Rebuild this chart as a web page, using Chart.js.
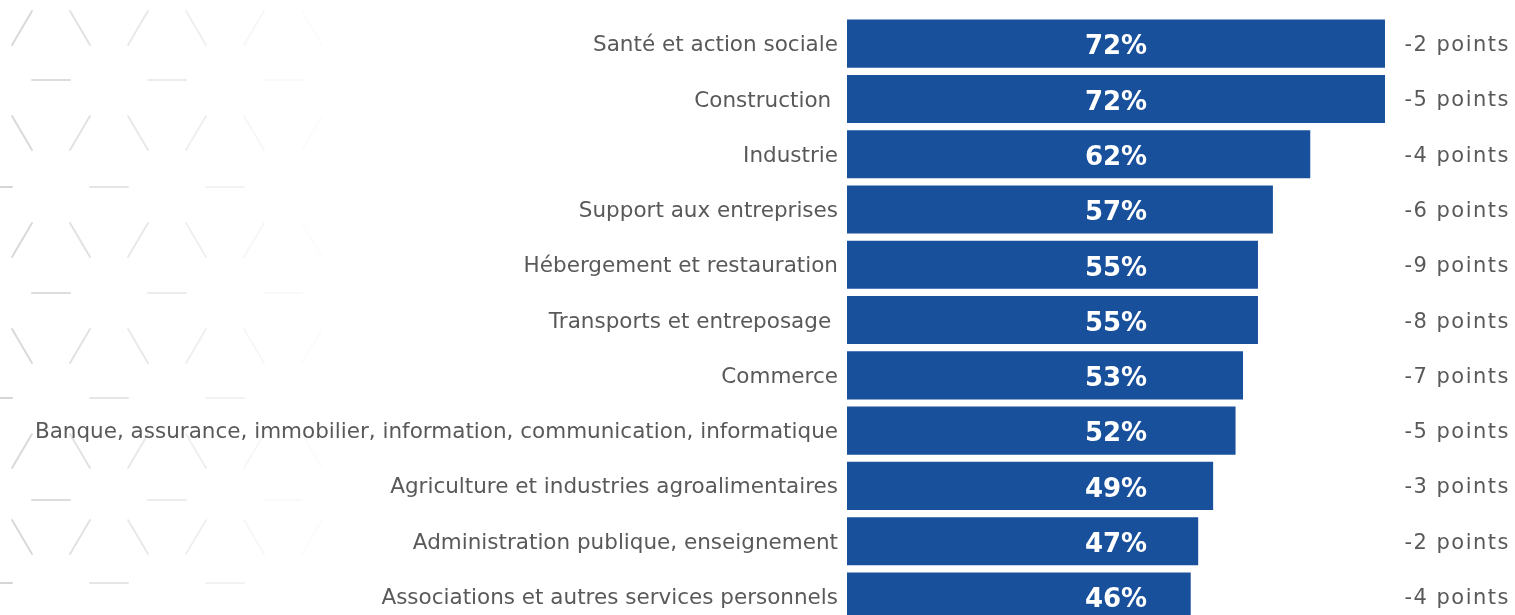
<!DOCTYPE html>
<html lang="fr">
<head>
<meta charset="utf-8">
<title>Secteurs</title>
<script src="https://cdn.jsdelivr.net/npm/chart.js@4/dist/chart.umd.min.js"></script>
<style>
    html, body { margin: 0; padding: 0; background: #fff; overflow: hidden; }
    #wrap { position: relative; width: 1515px; height: 638px; }
</style>
</head>
<body>
<div id="wrap"><canvas id="chart"></canvas></div>
<script>
// ─── Data ──────────────────────────────────

const sectors = [
    'Santé et action sociale',
    'Construction ',
    'Industrie',
    'Support aux entreprises',
    'Hébergement et restauration',
    'Transports et entreposage ',
    'Commerce',
    'Banque, assurance, immobilier, information, communication, informatique',
    'Agriculture et industries agroalimentaires',
    'Administration publique, enseignement',
    'Associations et autres services personnels'
];
const shares  = [72, 72, 62, 57, 55, 55, 53, 52, 49, 47, 46];
const changes = [-2, -5, -4, -6, -9, -8, -7, -5, -3, -2, -4];

const BLUE = '#18509c';
const GREY = '#595959';
const FONT = '"DejaVu Sans", Verdana, sans-serif';

// ─── Plugins ───────────────────────────────

// faint hexagon watermark on the left
const watermark = {
    id: 'watermark',
    beforeDraw(chart) {
        const ctx = chart.ctx;
        const slashRows = [28, 133, 240, 346, 451, 537];
        const dashRows  = [80, 187, 293, 398, 500, 583];
        const fade = x => 0.16 * Math.pow(Math.max(0, 1 - x / 360), 1.2);
        ctx.save();
        ctx.lineWidth = 2;
        ctx.lineCap = 'round';
        slashRows.forEach((y, r) => {
            for (let c = 0; c < 6; c++) {
                const x = 22 + c * 58;
                ctx.strokeStyle = `rgba(0,0,0,${fade(x)})`;
                const fwd = (c + r) % 2 === 0;
                ctx.beginPath();
                ctx.moveTo(x - 10, fwd ? y + 17 : y - 17);
                ctx.lineTo(x + 10, fwd ? y - 17 : y + 17);
                ctx.stroke();
            }
        });
        dashRows.forEach((y, r) => {
            for (let c = 0; c < 4; c++) {
                const x0 = 32 + c * 116 - (r % 2) * 58;
                ctx.strokeStyle = `rgba(0,0,0,${fade(x0 + 19)})`;
                ctx.beginPath();
                ctx.moveTo(x0, y);
                ctx.lineTo(x0 + 38, y);
                ctx.stroke();
            }
        });
        ctx.restore();
    }
};

// white share labels and right-hand change labels
const labels = {
    id: 'labels',
    afterDatasetsDraw(chart) {
        const ctx  = chart.ctx;
        const meta = chart.getDatasetMeta(0);
        const xs   = chart.scales.x;
        ctx.save();
        ctx.textBaseline = 'middle';
        meta.data.forEach((bar, i) => {
            ctx.fillStyle = '#fff';
            ctx.textAlign = 'center';
            ctx.font = `bold 26px ${FONT}`;
            ctx.fillText(shares[i] + '%', xs.getPixelForValue(36), bar.y + 4);

            ctx.fillStyle = GREY;
            ctx.textAlign = 'right';
            ctx.font = `21px ${FONT}`;
            ctx.letterSpacing = '1.5px';
            ctx.fillText(changes[i] + ' points', chart.chartArea.right - 5, bar.y + 2);
            ctx.letterSpacing = '0px';
        });
        ctx.restore();
    }
};

// ─── Chart ─────────────────────────────────

new Chart(document.getElementById('chart').getContext('2d'), {
    type: 'bar',
    data: {
        labels: sectors,
        datasets: [{
            data: shares,
            backgroundColor: BLUE,
            borderWidth: 0,
            categoryPercentage: 1,
            barPercentage: 0.87
        }]
    },
    options: {
        indexAxis: 'y',
        responsive: true,
        maintainAspectRatio: false,
        animation: false,
        layout: { padding: { top: 16, right: 0, bottom: 0, left: 0 } },
        plugins: { legend: { display: false }, tooltip: { enabled: false } },
        scales: {
            x: { display: false, min: 0, max: 89.4 },
            y: {
                grid: { display: false },
                border: { display: false },
                ticks: {
                    color: GREY,
                    padding: 1,
                    labelOffset: 2,
                    font: { family: FONT, size: 21.5 }
                },
                afterFit(scale) { scale.width = 847; }
            }
        }
    },
    plugins: [watermark, labels]
});
</script>
</body>
</html>
